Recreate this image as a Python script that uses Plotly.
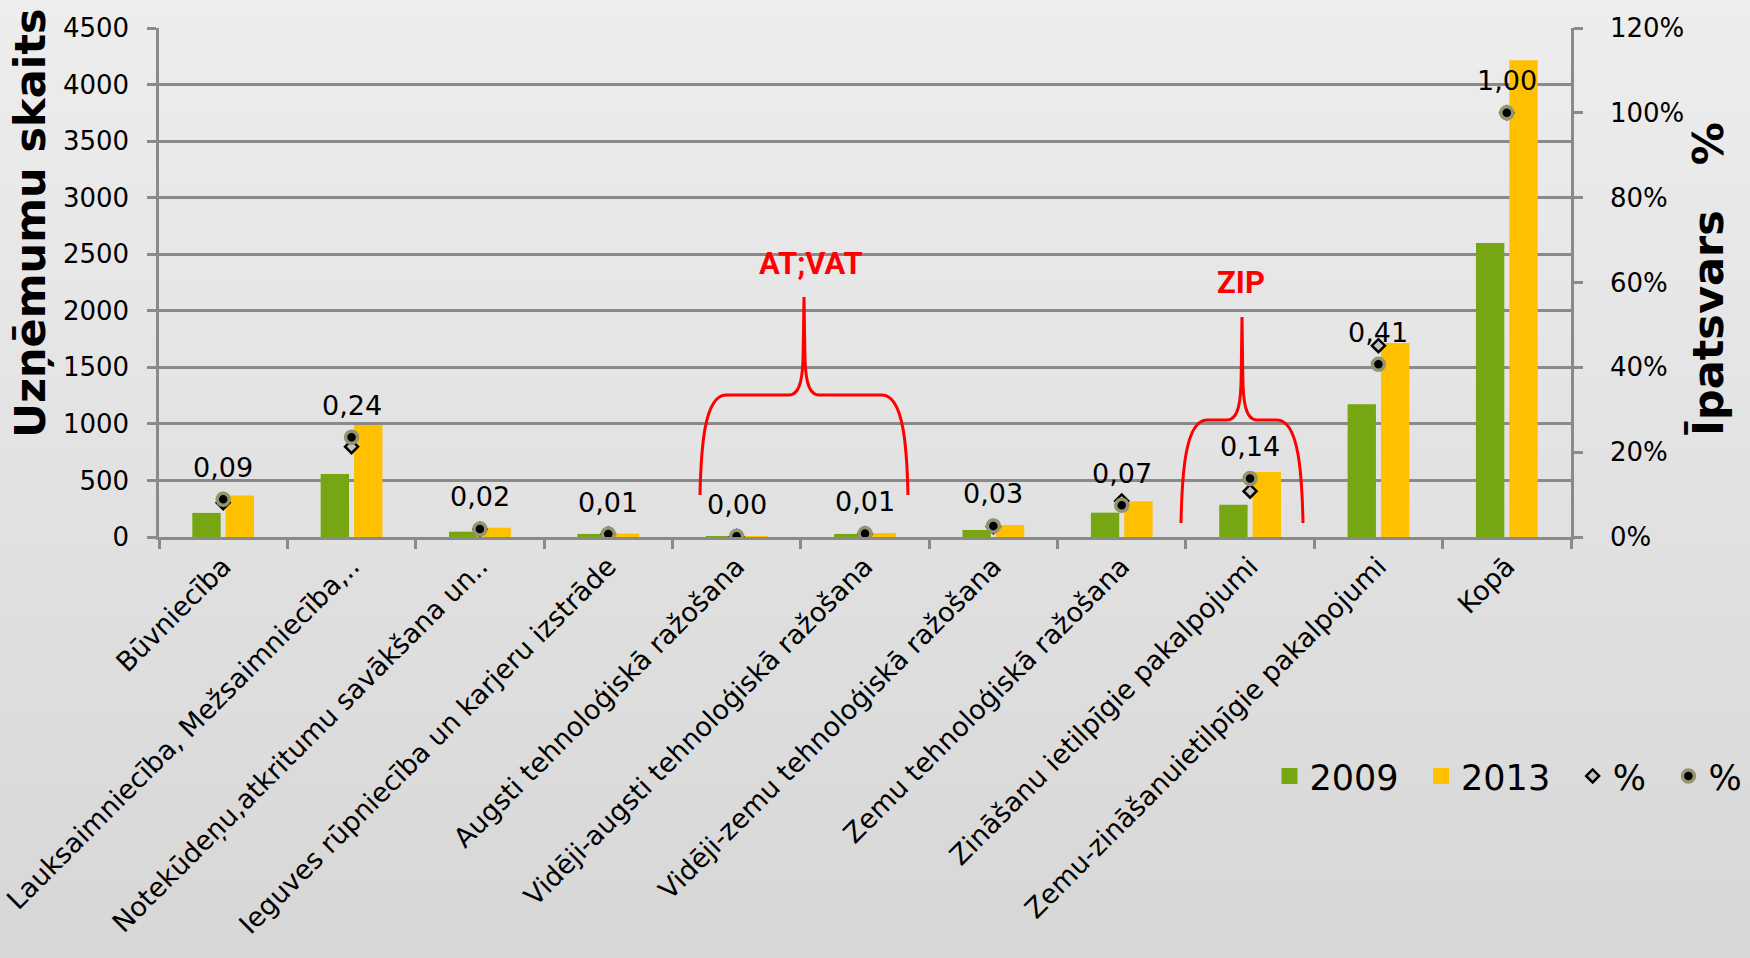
import plotly.graph_objects as go

categories = [
    "Būvniecība",
    "Lauksaimniecība, Mežsaimniecība,..",
    "Notekūdeņu,atkritumu savākšana un..",
    "Ieguves rūpniecība un karjeru izstrāde",
    "Augsti tehnoloģiskā ražošana",
    "Vidēji-augsti tehnoloģiskā ražošana",
    "Vidēji-zemu tehnoloģiskā ražošana",
    "Zemu tehnoloģiskā ražošana",
    "Zināšanu ietilpīgie pakalpojumi",
    "Zemu-zināšanuietilpīgie pakalpojumi",
    "Kopā",
]
count_2009 = [213, 557, 47, 27, 2, 27, 62, 215, 286, 1173, 2600]
count_2013 = [368, 990, 82, 30, 4, 35, 106, 315, 574, 1716, 4215]
share_2009 = [0.081, 0.213, 0.018, 0.007, 0.001, 0.007, 0.024, 0.085, 0.108, 0.451, 1.0]
share_2013 = [0.089, 0.235, 0.019, 0.007, 0.002, 0.008, 0.026, 0.075, 0.138, 0.407, 1.0]
share_labels = ["0,09", "0,24", "0,02", "0,01", "0,00", "0,01", "0,03", "0,07", "0,14", "0,41", "1,00"]
left_ticks = list(range(0, 4501, 500))
right_ticks = [0, 0.2, 0.4, 0.6, 0.8, 1.0, 1.2]

W, H = 1750, 958
ML, MR, MT, MB = 159, 179, 28, 421
PW, PH = W - ML - MR, H - MT - MB

GREEN = "#76a713"
GOLD = "#ffc000"
GRID = "#8a8a8a"
FONT = "DejaVu Sans"
GAP = "\u2002"


def px_x(px):
    return (px - ML) / PW


def px_y(py):
    return (MT + PH - py) / PH


def brace(xl, xr, yb, ym, yt):
    cx = (xl + xr) / 2.0
    pts = [
        ("M", [(xl, yb)]),
        ("C", [(xl + 1, ym + 55), (xl + 4, ym), (xl + 26, ym)]),
        ("L", [(cx - 15, ym)]),
        ("C", [(cx - 3, ym), (cx - 1, ym - 20), (cx - 0.8, ym - 45)]),
        ("L", [(cx, yt)]),
        ("L", [(cx + 0.8, ym - 45)]),
        ("C", [(cx + 1, ym - 20), (cx + 3, ym), (cx + 15, ym)]),
        ("L", [(xr - 26, ym)]),
        ("C", [(xr - 4, ym), (xr - 1, ym + 55), (xr, yb)]),
    ]
    s = ""
    for cmd, plist in pts:
        s += cmd + " " + " ".join(f"{px_x(a):.5f},{px_y(b):.5f}" for a, b in plist) + " "
    return s.strip()


fig = go.Figure()

fig.add_trace(go.Bar(x=categories, y=count_2009, name="2009", marker=dict(color=GREEN, line=dict(width=0)),
                     showlegend=False))
fig.add_trace(go.Bar(x=categories, y=count_2013, name="2013", marker=dict(color=GOLD, line=dict(width=0)),
                     showlegend=False))

# legend swatches for the bar series
fig.add_trace(go.Scatter(x=[None], y=[None], mode="markers", name="2009" + GAP,
                         marker=dict(symbol="square", size=16, color=GREEN)))
fig.add_trace(go.Scatter(x=[None], y=[None], mode="markers", name="2013" + GAP,
                         marker=dict(symbol="square", size=16, color=GOLD)))

fig.add_trace(go.Scatter(x=categories, y=share_2009, yaxis="y2", mode="markers", name="%" + GAP,
                         marker=dict(symbol="diamond", size=10, color="#c4c4c4",
                                     line=dict(color="black", width=2.5))))
fig.add_trace(go.Scatter(x=categories, y=share_2013, yaxis="y2", mode="markers", name="%",
                         marker=dict(symbol="circle", size=12, color="black",
                                     line=dict(color="#949470", width=3.5))))

annotations = []
for c, v, t in zip(categories, share_2013, share_labels):
    annotations.append(dict(x=c, y=v, xref="x", yref="y2", text=t, showarrow=False,
                            xanchor="center", yanchor="middle",
                            yshift=32, font=dict(family=FONT, size=27, color="black")))

annotations.append(dict(x=px_x(30), y=px_y(223), xref="paper", yref="paper", text="<b>Uzņēmumu skaits</b>",
                        xanchor="center", yanchor="middle",
                        textangle=-90, showarrow=False, font=dict(family=FONT, size=43, color="black")))
annotations.append(dict(x=px_x(1708), y=px_y(279), xref="paper", yref="paper",
                        text="<b>Īpatsvars&nbsp;&nbsp;&nbsp;%</b>",
                        xanchor="center", yanchor="middle",
                        textangle=-90, showarrow=False, font=dict(family=FONT, size=43, color="black")))
annotations.append(dict(x=px_x(811), y=px_y(263), xref="paper", yref="paper", text="<b>AT;VAT</b>",
                        xanchor="center", yanchor="middle",
                        showarrow=False, font=dict(family="Roboto", size=31, color="#ff0000")))
annotations.append(dict(x=px_x(1241), y=px_y(282), xref="paper", yref="paper", text="<b>ZIP</b>",
                        xanchor="center", yanchor="middle",
                        showarrow=False, font=dict(family="Roboto", size=31, color="#ff0000")))

shapes = []
# background gradient
n = 40
y_top = 1 + MT / PH
y_bot = -MB / PH
for i in range(n):
    f = i / (n - 1)
    g = int(round(237 - 22 * f))
    y1 = y_top - (y_top - y_bot) * i / n
    y0 = y_top - (y_top - y_bot) * (i + 1) / n
    shapes.append(dict(type="rect", xref="paper", yref="paper", x0=-0.2, x1=1.2, y0=y0 - 0.002, y1=y1 + 0.002,
                       fillcolor=f"rgb({g},{g},{g})", line=dict(width=0), layer="below"))

shapes.append(dict(type="path", xref="paper", yref="paper", path=brace(700, 908, 495, 395, 297),
                   line=dict(color="#ff0000", width=3)))
shapes.append(dict(type="path", xref="paper", yref="paper", path=brace(1181, 1303, 523, 420, 317),
                   line=dict(color="#ff0000", width=3)))

fig.update_layout(
    width=W, height=H,
    margin=dict(l=ML, r=MR, t=MT, b=MB, autoexpand=False),
    paper_bgcolor="#e2e2e2",
    plot_bgcolor="rgba(0,0,0,0)",
    barmode="group",
    bargap=0.48,
    bargroupgap=0.15,
    font=dict(family=FONT, color="black"),
    xaxis=dict(
        type="category",
        range=[-0.5, len(categories) - 0.5],
        tickangle=-45,
        tickfont=dict(family=FONT, size=27, color="black"),
        showline=True, linecolor=GRID, linewidth=2.5,
        ticks="outside", tickson="boundaries", ticklen=9, tickwidth=2.5, tickcolor=GRID,
        showgrid=False, automargin=False,
    ),
    yaxis=dict(
        range=[0, 4500], tickvals=left_ticks,
        tickfont=dict(family=FONT, size=26, color="black"),
        showline=True, linecolor=GRID, linewidth=2.5,
        ticks="outside", ticklen=9, tickwidth=2.5, tickcolor=GRID, ticklabelstandoff=13,
        showgrid=True, gridcolor=GRID, gridwidth=2.5, zeroline=False, automargin=False,
    ),
    yaxis2=dict(
        range=[0, 1.2], tickvals=right_ticks, tickformat=".0%",
        overlaying="y", side="right",
        tickfont=dict(family=FONT, size=26, color="black"),
        showline=True, linecolor=GRID, linewidth=2.5,
        ticks="outside", ticklen=9, tickwidth=2.5, tickcolor=GRID, ticklabelstandoff=22,
        showgrid=False, zeroline=False, automargin=False,
    ),
    legend=dict(
        orientation="h", x=1.125, xanchor="right", y=-0.47, yanchor="middle",
        font=dict(family=FONT, size=35, color="black"), bgcolor="rgba(0,0,0,0)",
    ),
    annotations=annotations,
    shapes=shapes,
)

fig.write_html("out.html", config={"displayModeBar": False},
               post_script="document.body.style.margin='0';")
